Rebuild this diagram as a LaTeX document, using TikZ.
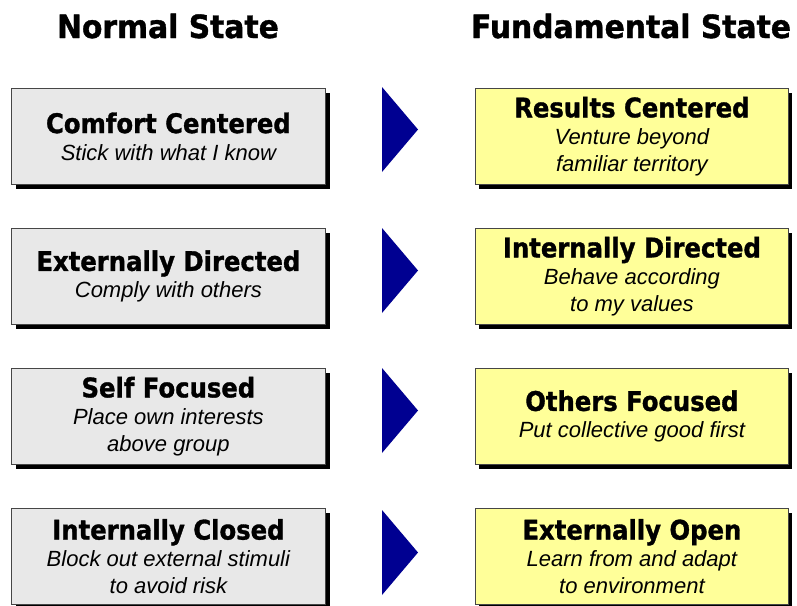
\documentclass[tikz,border=0pt]{standalone}
\usepackage{fontspec}
\setmainfont{Liberation Sans}
\newfontfamily\hfont{DejaVu Sans}[FakeStretch=0.93,BoldFeatures={FakeBold=1.2}]
\newfontfamily\tfont{DejaVu Sans}[FakeStretch=0.90,BoldFeatures={FakeBold=1.2}]
\newfontfamily\sfont{Liberation Sans}
\definecolor{boxgray}{RGB}{232,232,232}
\definecolor{boxyellow}{RGB}{255,255,153}
\definecolor{navy}{RGB}{0,0,145}
\definecolor{edge}{RGB}{70,70,70}
\tikzset{
  statebox/.style={draw=edge, line width=0.8pt, minimum width=314pt, minimum height=96pt,
    inner sep=0pt, align=center, anchor=north west,
    font=\sfont\itshape\fontsize{22}{27}\selectfont},
  grayfill/.style={statebox, fill=boxgray},
  yellowfill/.style={statebox, fill=boxyellow},
  shadowbox/.style={fill=black, draw=none},
  header/.style={font=\hfont\bfseries\fontsize{32}{32}\selectfont, anchor=base},
  arrowtri/.style={fill=navy, draw=none}
}
\newcommand{\ttl}[1]{{\tfont\bfseries\upshape\fontsize{27}{27}\selectfont #1}}
\begin{document}
\begin{tikzpicture}[x=1pt,y=-1pt]
\useasboundingbox (0,0) rectangle (797,605);
\fill[white] (0,0) rectangle (797,605);
\clip (0,0) rectangle (797,605);
% headers
\node[header] (h1) at (168,38) {Normal State};
\node[header] (h2) at (631,38) {Fundamental State};
% rows
\foreach \r/\ta/\tb/\tr in {
  0/{\ttl{Comfort Centered}\\Stick with what I know}/{\ttl{Results Centered}\\Venture beyond\\familiar territory}/87,
  1/{\ttl{Externally Directed}\\Comply with others}/{\ttl{Internally Directed}\\Behave according\\to my values}/228,
  2/{\ttl{Self Focused}\\Place own interests\\above group}/{\ttl{Others Focused}\\Put collective good first}/368,
  3/{\ttl{Internally Closed}\\Block out external stimuli\\to avoid risk}/{\ttl{Externally Open}\\Learn from and adapt\\to environment}/510}{
  \pgfmathsetmacro{\yt}{88+140*\r}
  \fill[shadowbox] (16,\yt+5) rectangle (330,\yt+101);
  \node[grayfill] (g\r) at (11,\yt) {\ta};
  \fill[shadowbox] (479,\yt+5) rectangle (792,\yt+101);
  \node[yellowfill, minimum width=313pt] (y\r) at (475,\yt) {\tb};
  \coordinate (ta\r) at (382,\tr);
  \coordinate (tb\r) at (382,\tr+85);
  \coordinate (tc\r) at (418,\tr+42.5);
  \fill[arrowtri] (ta\r) -- (tc\r) -- (tb\r) -- cycle;
}
\end{tikzpicture}
\end{document}
